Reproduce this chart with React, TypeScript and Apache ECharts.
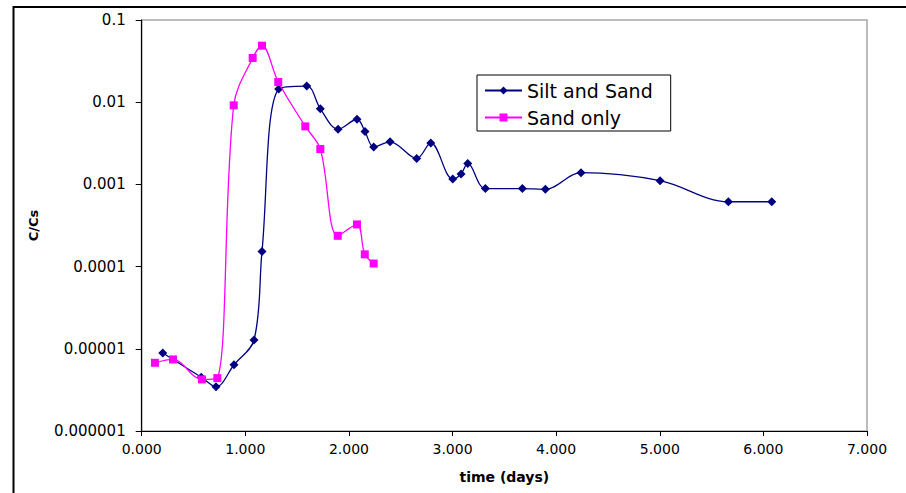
import React, { useEffect, useRef } from "react";
import * as echarts from "echarts";

const siltTime = [0.203, 0.575, 0.717, 0.891, 1.084, 1.161, 1.322, 1.593, 1.724, 1.895, 2.078, 2.155, 2.239, 2.397, 2.654, 2.79, 3.002, 3.082, 3.147, 3.317, 3.674, 3.896, 4.24, 5.003, 5.662, 6.081];
const siltConc = [8.9e-6, 4.5e-6, 3.45e-6, 6.4e-6, 1.28e-5, 1.53e-4, 1.45e-2, 1.57e-2, 8.3e-3, 4.7e-3, 6.2e-3, 4.4e-3, 2.85e-3, 3.3e-3, 2.07e-3, 3.2e-3, 1.16e-3, 1.34e-3, 1.8e-3, 8.9e-4, 8.9e-4, 8.7e-4, 1.39e-3, 1.11e-3, 6.15e-4, 6.15e-4];

const sandTime = [0.128, 0.302, 0.581, 0.73, 0.888, 1.071, 1.161, 1.318, 1.579, 1.724, 1.892, 2.078, 2.153, 2.239];
const sandConc = [6.76e-6, 7.42e-6, 4.24e-6, 4.4e-6, 9.16e-3, 3.45e-2, 4.87e-2, 1.76e-2, 5.08e-3, 2.69e-3, 2.37e-4, 3.26e-4, 1.41e-4, 1.09e-4];

const yTickLabels: Record<string, string> = {
  "-6": "0.000001",
  "-5": "0.00001",
  "-4": "0.0001",
  "-3": "0.001",
  "-2": "0.01",
  "-1": "0.1",
};

const seriesNames = ["Silt and Sand", "Sand only"];

export default function App() {
  const ref = useRef<HTMLDivElement>(null);
  useEffect(() => {
    if (!ref.current) return;
    const chart = echarts.init(ref.current, null, { renderer: "svg" });
    const font = "DejaVu Sans";
    chart.setOption({
      animation: false,
      backgroundColor: "#ffffff",
      textStyle: { fontFamily: font },
      grid: {
        left: 141.7,
        right: 39,
        top: 20,
        bottom: 62,
        show: true,
        borderColor: "#a6a6a6",
        borderWidth: 1.5,
      },
      graphic: [
        {
          type: "rect",
          shape: { x: 13.5, y: 7, width: 1000, height: 600 },
          style: { fill: "none", stroke: "#000", lineWidth: 2 },
          silent: true,
        },
      ],
      legend: {
        left: 477,
        top: 75,
        orient: "vertical",
        padding: [6, 18, 4, 7],
        itemGap: 8,
        itemWidth: 37,
        itemHeight: 10,
        borderColor: "#000",
        borderWidth: 1,
        backgroundColor: "#fff",
        textStyle: { fontFamily: font, fontSize: 19, color: "#000" },
        data: seriesNames,
      },
      xAxis: {
        type: "value",
        min: 0,
        max: 7,
        interval: 1,
        name: "time (days)",
        nameLocation: "middle",
        nameGap: 39,
        nameTextStyle: { fontFamily: font, fontWeight: "bold", fontSize: 14, color: "#000" },
        axisLine: { show: true, lineStyle: { color: "#000", width: 1.2 } },
        axisTick: { show: true, inside: false, length: 5, lineStyle: { color: "#000" } },
        splitLine: { show: false },
        axisLabel: {
          margin: 11,
          fontFamily: font,
          fontSize: 14,
          color: "#000",
          formatter: (v: number) => v.toFixed(3),
        },
      },
      yAxis: {
        type: "log",
        logBase: 10,
        min: 1e-6,
        max: 0.1,
        name: "C/Cs",
        nameLocation: "middle",
        nameGap: 102,
        nameTextStyle: { fontFamily: font, fontWeight: "bold", fontSize: 13, color: "#000" },
        axisLine: { show: true, lineStyle: { color: "#000", width: 1.2 } },
        axisTick: { show: true, inside: false, length: 6, lineStyle: { color: "#000" } },
        splitLine: { show: false },
        minorTick: { show: false },
        axisLabel: {
          margin: 16,
          fontFamily: font,
          fontSize: 15,
          color: "#000",
          formatter: (v: number) => {
            const e = Math.round(Math.log10(v));
            return yTickLabels[String(e)] ?? String(v);
          },
        },
      },
      series: [
        {
          name: seriesNames[0],
          type: "line",
          smooth: 0.35,
          symbol: "diamond",
          symbolSize: 9,
          lineStyle: { color: "#000080", width: 1.3 },
          itemStyle: { color: "#000080" },
          data: siltTime.map((t, i) => [t, siltConc[i]]),
          z: 2,
        },
        {
          name: seriesNames[1],
          type: "line",
          smooth: 0.35,
          symbol: "rect",
          symbolSize: 8,
          lineStyle: { color: "#ff00ff", width: 1.3 },
          itemStyle: { color: "#ff00ff" },
          data: sandTime.map((t, i) => [t, sandConc[i]]),
          z: 3,
        },
      ],
    });
    return () => chart.dispose();
  }, []);
  return <div ref={ref} style={{ width: 906, height: 493, position: "absolute", left: 0, top: 0 }} />;
}
